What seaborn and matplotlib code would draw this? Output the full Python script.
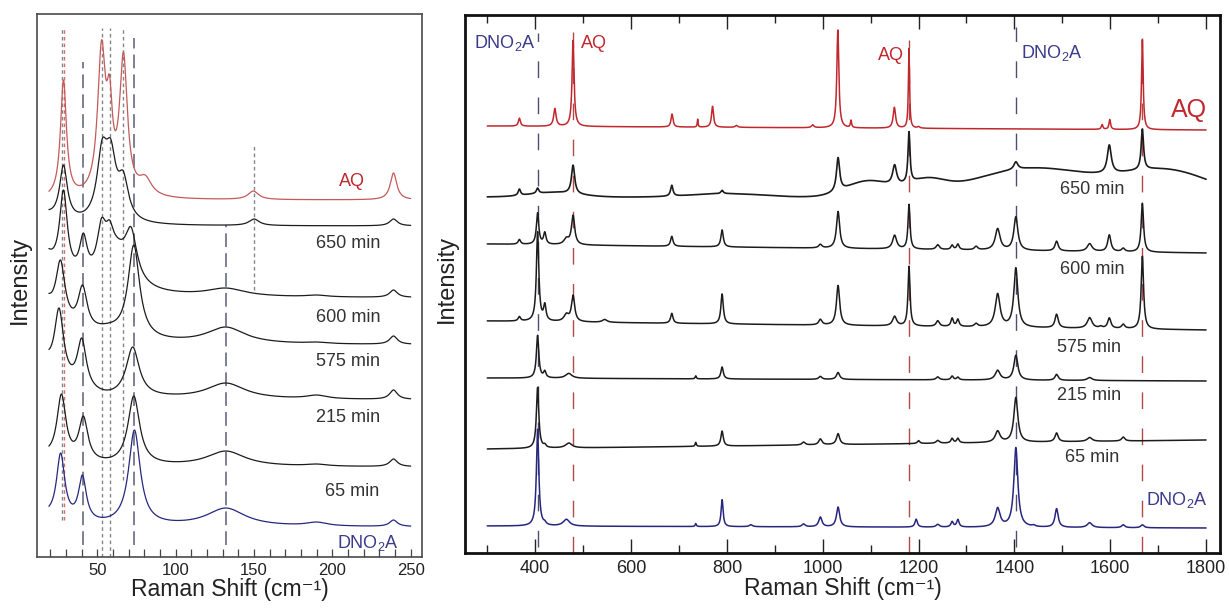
import numpy as np
import matplotlib
matplotlib.use("Agg")
import matplotlib.pyplot as plt
import seaborn as sns

# ------------------------------------------------------------------
# Band tables: (centre cm^-1, apex height above the trace baseline, HWHM cm^-1)
# Bands with HWHM >= 30 are broad fluorescence humps (Gaussian profile),
# narrower ones are Raman lines (Lorentzian profile).
# ------------------------------------------------------------------

# low-frequency region (lattice modes)
low_aq = [(28.3, 120, 2.3), (52.6, 160, 3.0), (57.7, 125, 2.2), (66.6, 148, 3.0),
          (80.5, 25, 5.0), (149.5, 9, 4.0), (239.0, 27, 2.5)]
low_650 = [(8.0, 20, 12.0), (28.3, 61, 3.0), (53.0, 87, 4.0), (58.5, 87, 4.0),
           (62.0, 60, 12.0), (66.5, 55, 4.0), (150.0, 7, 4.0), (239.0, 7, 3.0)]
low_600 = [(5.0, 75, 15.0), (28.3, 108, 3.0), (41.0, 65, 3.0), (52.6, 80, 3.5),
           (57.7, 78, 3.0), (62.0, 62, 10.0), (71.5, 71, 4.5), (132.0, 10, 15.0),
           (190.0, 3, 8.0), (239.0, 8, 3.0)]
low_575 = [(5.0, 80, 14.0), (26.4, 85, 3.5), (40.5, 60, 3.5), (57.0, 22, 12.0),
           (73.2, 100, 4.5), (132.0, 18, 15.0), (190.0, 3, 8.0), (239.0, 9, 3.0)]
low_215 = [(5.0, 70, 14.0), (25.5, 92, 3.5), (40.0, 62, 3.5), (56.0, 10, 12.0),
           (72.5, 53, 5.0), (132.0, 17, 15.0), (190.0, 5, 8.0), (239.0, 10, 3.0)]
low_65 = [(5.0, 20, 14.0), (27.0, 73, 3.5), (41.0, 51, 3.5), (73.2, 71, 4.5),
          (132.0, 16, 15.0), (190.0, 3, 8.0), (239.0, 8, 3.0)]
low_dno2a = [(5.0, 20, 14.0), (26.5, 74, 3.2), (40.4, 52, 3.0), (73.6, 97, 4.5),
             (132.0, 19, 15.0), (190.0, 5, 8.0), (239.0, 7, 3.0)]

# baseline of each stacked trace (start, end)
low_levels = {"AQ": (357, 357), "650 min": (331, 331), "600 min": (259, 259),
              "575 min": (212, 212), "215 min": (157, 157), "65 min": (90, 90),
              "DNO2A": (30, 30)}

# internal-mode region
high_aq = [(367, 8, 2.5), (441, 18, 3.0), (479, 86, 2.5), (685.5, 13, 2.5),
           (739, 8, 1.0), (770, 21, 2.5), (820, 2, 3.0), (979, 3, 3.0),
           (1031.5, 98, 2.5), (1059, 8, 1.5), (1149.5, 21, 3.0), (1180, 80, 1.5),
           (1200, 2, 3.0), (1583, 5, 2.0), (1599, 10, 2.0), (1667, 90, 2.0)]
high_650 = [(367, 8, 3.0), (405, 9, 3.0), (440, 5, 60.0), (479, 32, 4.0),
            (685, 12, 3.0), (790, 7, 3.0), (800, 4, 90.0), (1032, 40, 4.0),
            (1095, 17, 55.0), (1150, 33, 5.0), (1180, 66, 2.5), (1215, 20, 45.0),
            (1403, 36, 5.0), (1440, 30, 150.0), (1598, 53, 5.0),
            (1667, 69, 3.0), (1720, 29, 110.0)]
high_600 = [(367, 5, 3.0), (405, 32, 3.0), (420, 13, 3.0), (465, 8, 6.0),
            (479, 30, 4.0), (685, 10, 3.0), (790, 17, 3.0), (995, 4, 4.0),
            (1032, 37, 4.0), (1150, 14, 5.0), (1180, 45, 2.5), (1240, 5, 4.0),
            (1270, 5, 3.0), (1282, 6, 3.0), (1320, 4, 4.0), (1365, 22, 6.0),
            (1403, 34, 5.0), (1488, 10, 4.0), (1557, 8, 6.0), (1598, 17, 4.0),
            (1627, 4, 4.0), (1667, 49, 3.0)]
high_575 = [(367, 5, 3.0), (405, 90, 3.0), (420, 19, 3.0), (465, 9, 6.0),
            (479, 27, 4.0), (545, 3, 6.0), (685, 10, 3.0), (790, 30, 3.0),
            (995, 6, 4.0), (1032, 40, 4.0), (1150, 10, 5.0), (1180, 60, 2.5),
            (1240, 6, 4.0), (1270, 9, 3.0), (1282, 8, 3.0), (1320, 4, 4.0),
            (1365, 34, 6.0), (1403, 60, 5.0), (1488, 14, 4.0), (1557, 11, 6.0),
            (1580, 3, 4.0), (1598, 11, 4.0), (1627, 5, 4.0), (1667, 73, 3.0)]
high_215 = [(405, 43, 3.0), (420, 8, 3.0), (470, 5, 8.0), (735, 3, 1.5),
            (790, 12, 3.0), (995, 3, 4.0), (1032, 7, 4.0), (1240, 3, 4.0),
            (1270, 4, 3.0), (1282, 3, 3.0), (1365, 10, 6.0), (1403, 25, 5.0),
            (1488, 6, 4.0), (1557, 3, 6.0)]
high_65 = [(405, 61, 3.0), (420, 5, 3.0), (470, 5, 8.0), (735, 4, 1.5),
           (790, 15, 3.0), (960, 3, 4.0), (995, 6, 4.0), (1032, 11, 4.0),
           (1200, 3, 3.0), (1240, 3, 4.0), (1270, 5, 3.0), (1282, 5, 3.0),
           (1365, 12, 6.0), (1403, 45, 5.0), (1488, 9, 4.0), (1557, 4, 6.0),
           (1627, 4, 4.0)]
high_dno2a = [(405, 97, 3.0), (420, 6, 3.0), (465, 7, 8.0), (735, 3, 1.5),
              (790, 27, 2.5), (850, 2, 4.0), (960, 3, 4.0), (995, 10, 4.0),
              (1032, 20, 4.0), (1195, 8, 3.0), (1240, 3, 4.0), (1270, 6, 3.0),
              (1282, 8, 3.0), (1365, 20, 6.0), (1403, 80, 5.0), (1440, 3, 4.0),
              (1488, 19, 4.0), (1557, 5, 6.0), (1627, 3, 4.0), (1667, 3, 4.0)]

high_levels = {"AQ": (427, 423), "650 min": (356, 355), "600 min": (309, 300),
               "575 min": (232, 223), "215 min": (175, 172), "65 min": (104, 113),
               "DNO2A": (27, 25)}

# reference band positions marked on each panel
low_marks_aq = [27.4, 53.0, 58.3, 66.4, 150.0]
low_marks_dno2a = [40.6, 73.2, 132.0]
high_marks_aq = [479, 1180, 1667]
high_marks_dno2a = [405, 1403]

# ------------------------------------------------------------------
RED = "#c0282d"
RED_SOFT = "#c45a5a"
NAVY = "#27277f"
NAVY_TXT = "#3b3b8e"
INK = "#1c1c1c"
GREY_TXT = "#333333"


def band_profile(x, c, w):
    """Unit-height band shapes evaluated at x (rows) for each band (columns)."""
    d = x[:, None] - c[None, :]
    lor = w ** 2 / (d ** 2 + w ** 2)
    gau = np.exp(-np.log(2) * d ** 2 / w ** 2)
    return np.where(w[None, :] >= 30, gau, lor)


def spectrum(x, bands, level):
    """Sum of bands whose apexes reach the tabulated heights."""
    c, h, w = (np.array(v, dtype=float) for v in zip(*bands))
    amp = np.linalg.solve(band_profile(c, c, w), h)
    base = level[0] + (level[1] - level[0]) * (x - x[0]) / (x[-1] - x[0])
    return base + band_profile(x, c, w) @ amp


sns.set_theme(style="white")
plt.rcParams["font.family"] = ["Liberation Sans", "DejaVu Sans"]
plt.rcParams["mathtext.fontset"] = "custom"
plt.rcParams["mathtext.rm"] = "Liberation Sans"
plt.rcParams["mathtext.it"] = "Liberation Sans:italic"
plt.rcParams["mathtext.bf"] = "Liberation Sans:bold"

W, H = 1229, 608
fig = plt.figure(figsize=(W / 100, H / 100), dpi=100)
ax1 = fig.add_axes([37 / W, (H - 557) / H, 385 / W, 543 / H])
ax2 = fig.add_axes([465 / W, (H - 553) / H, 755 / W, 538 / H])

# ---------------- left panel ----------------
x_low = np.arange(19.0, 250.0001, 0.05)
low_traces = [("AQ", low_aq, RED_SOFT, 0.9), ("650 min", low_650, INK, 0.9),
              ("600 min", low_600, INK, 0.9), ("575 min", low_575, INK, 0.9),
              ("215 min", low_215, INK, 0.9), ("65 min", low_65, INK, 0.9),
              ("DNO2A", low_dno2a, NAVY, 0.9)]

dash_short = (0, (2.6, 2.2))
dash_long = (0, (9, 4))
for xv in low_marks_aq:
    top, bot = (412, 267) if xv == 150.0 else (529, 0)
    if xv == 66.4:
        bot = 77
    if xv == 27.4:
        bot = 37
    ax1.plot([xv, xv], [bot, top], color="#858585", lw=1.0, ls=dash_short, zorder=1)
ax1.plot([28.6, 28.6], [37, 529], color="#cf6f6f", lw=1.0, ls=dash_short, zorder=1)
for xv in low_marks_dno2a:
    top = {40.6: 495, 73.2: 519, 132.0: 332}[xv]
    ax1.plot([xv, xv], [12, top], color="#5d5d78", lw=1.1, ls=dash_long, zorder=1)

for name, bands, col, lw in low_traces:
    y = spectrum(x_low, bands, low_levels[name])
    sns.lineplot(x=x_low, y=y, ax=ax1, color=col, linewidth=lw,
                 estimator=None, sort=False, zorder=3)

low_text = [("AQ", 212.5, 375, RED), ("650 min", 210, 314, GREY_TXT),
            ("600 min", 210, 240, GREY_TXT), ("575 min", 210, 195, GREY_TXT),
            ("215 min", 210, 140, GREY_TXT), ("65 min", 212.5, 65, GREY_TXT),
            (r"DNO$_{\rm 2}$A", 222.7, 14, NAVY_TXT)]
for txt, xv, yv, col in low_text:
    ax1.text(xv, yv, txt, color=col, fontsize=13, ha="center", va="center", zorder=4)

ax1.set_xlim(11.4, 257.2)
ax1.set_ylim(0, 543)
ax1.set_xticks([50, 100, 150, 200, 250])
ax1.set_xticks(np.arange(20, 251, 10), minor=True)
ax1.tick_params(axis="x", which="both", direction="in", length=6, width=0.9,
                color="#444444", bottom=True, top=False, labelsize=12,
                labelcolor="#222222", pad=4)
ax1.set_yticks([])
for sp in ax1.spines.values():
    sp.set_color("#4a4a4a")
    sp.set_linewidth(1.2)

# ---------------- right panel ----------------
x_high = np.arange(300.0, 1800.0001, 0.25)
high_traces = [("AQ", high_aq, RED, 1.1), ("650 min", high_650, INK, 1.2),
               ("600 min", high_600, INK, 1.1), ("575 min", high_575, INK, 1.1),
               ("215 min", high_215, INK, 1.1), ("65 min", high_65, INK, 1.1),
               ("DNO2A", high_dno2a, NAVY, 1.1)]

for xv in high_marks_aq:
    top = {479: 521, 1180: 513, 1667: 515}[xv]
    ax2.plot([xv, xv], [0, top], color="#b24a4a", lw=1.0, ls=(0, (12, 14)), zorder=1)
for xv in high_marks_dno2a:
    top = {405: 520, 1403: 526}[xv]
    ax2.plot([xv, xv], [6, top], color="#4d4d70", lw=1.0, ls=(0, (12, 14)), zorder=1)

for name, bands, col, lw in high_traces:
    y = spectrum(x_high, bands, high_levels[name])
    sns.lineplot(x=x_high, y=y, ax=ax2, color=col, linewidth=lw,
                 estimator=None, sort=False, zorder=3)

high_text = [(r"DNO$_{\rm 2}$A", 400, 510, NAVY_TXT, 13, "right"),
             ("AQ", 495, 510, RED, 13, "left"),
             ("AQ", 1170, 498, RED, 13, "right"),
             (r"DNO$_{\rm 2}$A", 1414, 500, NAVY_TXT, 13, "left"),
             ("AQ", 1764, 443, RED, 18, "center"),
             ("650 min", 1562, 363, GREY_TXT, 13, "center"),
             ("600 min", 1562, 283, GREY_TXT, 13, "center"),
             ("575 min", 1556, 205, GREY_TXT, 13, "center"),
             ("215 min", 1556, 158, GREY_TXT, 13, "center"),
             ("65 min", 1562, 95, GREY_TXT, 13, "center"),
             (r"DNO$_{\rm 2}$A", 1739, 53, NAVY_TXT, 13, "center")]
for txt, xv, yv, col, fs, ha in high_text:
    ax2.text(xv, yv, txt, color=col, fontsize=fs, ha=ha, va="center", zorder=4)

ax2.set_xlim(253.5, 1829)
ax2.set_ylim(0, 538)
ax2.set_xticks(np.arange(400, 1801, 200))
ax2.set_xticks(np.arange(300, 1801, 100), minor=True)
ax2.tick_params(axis="x", which="major", direction="in", length=10, width=1.0,
                color="#222222", bottom=True, top=True, labelsize=13,
                labelcolor="#222222", pad=5)
ax2.tick_params(axis="x", which="minor", direction="in", length=6, width=1.0,
                color="#222222", bottom=True, top=True)
ax2.set_yticks([])
for sp in ax2.spines.values():
    sp.set_color("#111111")
    sp.set_linewidth(2.0)

# ---------------- axis titles ----------------
for ax, xl in ((ax1, -0.016), (ax2, -0.009)):
    ax.set_xlabel("Raman Shift (cm\u207b\u00b9)", fontsize=16.5, color="#222222")
    ax.set_ylabel("Intensity", fontsize=17, color="#222222")
    ax.yaxis.set_label_coords(xl, 0.51)
ax1.xaxis.set_label_coords(0.5, -0.038)
ax2.xaxis.set_label_coords(0.5, -0.045)

fig.savefig("out.png", dpi=100, facecolor="white")
